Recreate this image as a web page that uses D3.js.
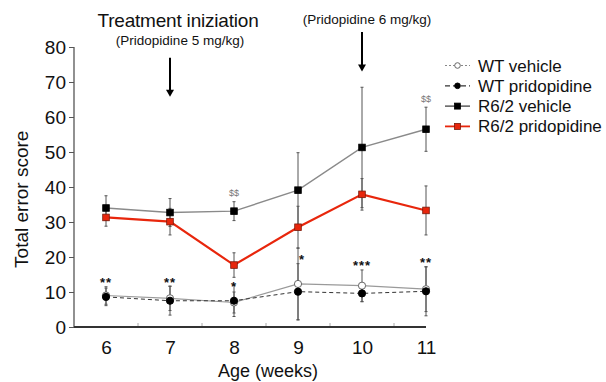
<!DOCTYPE html>
<html>
<head>
<meta charset="utf-8">
<script src="https://cdn.jsdelivr.net/npm/d3@7"></script>
<style>
  body { margin: 0; background: #fff; }
  svg text { font-family: "Liberation Sans", Arial, sans-serif; }
</style>
</head>
<body>
<div id="viz"></div>
<script>
// data
var weeks = [6, 7, 8, 9, 10, 11]
var wtVehicle = [9.0, 8.2, 7.0, 12.3, 11.8, 10.8]
var wtVehicleErr = [2.5, 3.5, 3.0, 10.3, 4.5, 6.4]
var wtPrido = [8.6, 7.5, 7.5, 10.1, 9.6, 10.2]
var wtPridoErr = [2.5, 4.1, 4.5, 8.0, 2.4, 7.0]
var r62Vehicle = [34.0, 32.7, 33.1, 39.1, 51.3, 56.5]
var r62VehicleErr = [3.5, 4.0, 2.7, 10.7, 17.2, 6.3]
var r62Prido = [31.3, 30.1, 17.7, 28.5, 37.9, 33.3]
var r62PridoErr = [2.5, 3.8, 3.5, 6.0, 4.5, 7.0]
var yTicks = [0, 10, 20, 30, 40, 50, 60, 70, 80]
var stars = ["**", "**", "*", "*", "***", "**"]
var starY = [13.2, 13.2, 12.0, 19.8, 17.9, 18.9]
var dollarWeeks = [8, 11]
var dollarY = [38.3, 65.1]

var width = 606, height = 382

var svg = d3.select("#viz").append("svg")
  .attr("width", width)
  .attr("height", height)

var x = d3.scaleLinear().domain([5.5, 11]).range([74, 426])
var y = d3.scaleLinear().domain([0, 80]).range([327, 47])

// axes ----
var yAxis = d3.axisLeft(y).tickValues(yTicks).tickSize(5).tickPadding(3)
var gy = svg.append("g").attr("transform", "translate(74,0)").call(yAxis)
gy.select(".domain").attr("stroke", "#555").attr("stroke-width", 1.3)
  .attr("d", "M0," + y(80) + "V" + y(0))
gy.selectAll(".tick line").attr("stroke", "#555")
gy.selectAll(".tick text").style("font-size", "19px").attr("fill", "#111")

var xAxis = d3.axisBottom(x).tickValues(weeks).tickFormat(d3.format("d")).tickSize(0).tickPadding(14)
var gx = svg.append("g").attr("transform", "translate(0," + y(0) + ")").call(xAxis)
gx.select(".domain").attr("stroke", "#333").attr("stroke-width", 2.2)
  .attr("d", "M" + x(5.5) + ",0H" + x(11))
gx.selectAll(".tick text").style("font-size", "19px").attr("fill", "#111")

// minor ticks at half weeks
svg.append("g").selectAll("line")
  .data([6.5, 7.5, 8.5, 9.5, 10.5])
  .enter().append("line")
    .attr("x1", d => x(d)).attr("x2", d => x(d))
    .attr("y1", y(0) - 1).attr("y2", y(0) - 4)
    .attr("stroke", "#aaa").attr("stroke-width", 1)

svg.append("text")
  .attr("transform", "translate(28," + y(36.5) + ") rotate(-90)")
  .attr("text-anchor", "middle")
  .style("font-size", "19px")
  .attr("fill", "#111")
  .text("Total error score")

svg.append("text")
  .attr("x", 268).attr("y", 377)
  .attr("text-anchor", "middle")
  .style("font-size", "18px")
  .attr("fill", "#111")
  .text("Age (weeks)")

// series ----
var series = [
  {vals: wtVehicle, err: wtVehicleErr, line: "#9a9a9a", lw: 1.2, dash: null, marker: "circle", fill: "#fff", mstroke: "#666"},
  {vals: wtPrido, err: wtPridoErr, line: "#333", lw: 1, dash: "4,3", marker: "circle", fill: "#000", mstroke: "#000"},
  {vals: r62Vehicle, err: r62VehicleErr, line: "#8a8a8a", lw: 1.4, dash: null, marker: "square", fill: "#000", mstroke: "#000"},
  {vals: r62Prido, err: r62PridoErr, line: "#e8260c", lw: 2.2, dash: null, marker: "square", fill: "#e8260c", mstroke: "#7a1a0a"}
]

// error bars first
series.forEach(function(s) {
  var g = svg.append("g")
  weeks.forEach(function(w, i) {
    var top = y(s.vals[i] + s.err[i]), bot = y(Math.max(0, s.vals[i] - s.err[i]))
    g.append("line").attr("x1", x(w)).attr("x2", x(w)).attr("y1", top).attr("y2", bot)
      .attr("stroke", "#555").attr("stroke-width", 1)
    g.append("line").attr("x1", x(w) - 1.5).attr("x2", x(w) + 1.5).attr("y1", top).attr("y2", top)
      .attr("stroke", "#555").attr("stroke-width", 1)
    g.append("line").attr("x1", x(w) - 1.5).attr("x2", x(w) + 1.5).attr("y1", bot).attr("y2", bot)
      .attr("stroke", "#555").attr("stroke-width", 1)
  })
})

var line = d3.line()
  .x(function(d, i) { return x(weeks[i]) })
  .y(function(d) { return y(d) })

series.forEach(function(s) {
  svg.append("path")
    .datum(s.vals)
    .attr("d", line)
    .attr("fill", "none")
    .attr("stroke", s.line)
    .attr("stroke-width", s.lw)
    .attr("stroke-dasharray", s.dash)
})

function drawMarker(g, s, cx, cy) {
  if (s.marker == "circle") {
    g.append("circle").attr("cx", cx).attr("cy", cy).attr("r", 3.6)
      .attr("fill", s.fill).attr("stroke", s.mstroke).attr("stroke-width", 1)
  } else {
    g.append("rect").attr("x", cx - 3.3).attr("y", cy - 3.3).attr("width", 6.6).attr("height", 6.6)
      .attr("fill", s.fill).attr("stroke", s.mstroke).attr("stroke-width", 0.8)
  }
}

series.forEach(function(s) {
  var g = svg.append("g")
  s.vals.forEach(function(v, i) { drawMarker(g, s, x(weeks[i]), y(v)) })
})

// significance marks
svg.append("g").selectAll("text")
  .data(stars)
  .enter().append("text")
    .attr("x", (d, i) => x(weeks[i]) + (weeks[i] == 9 ? 4 : 0))
    .attr("y", (d, i) => y(starY[i]) + 6)
    .attr("text-anchor", "middle")
    .style("font-size", "13px")
    .style("font-weight", "bold")
    .style("letter-spacing", "1px")
    .attr("fill", "#111")
    .text(d => d)

svg.append("g").selectAll("text")
  .data(dollarWeeks)
  .enter().append("text")
    .attr("x", d => x(d))
    .attr("y", (d, i) => y(dollarY[i]) + 3)
    .attr("text-anchor", "middle")
    .style("font-size", "9px")
    .attr("fill", "#777")
    .text("$$")

// treatment annotations
svg.append("text").attr("x", 178).attr("y", 27).attr("text-anchor", "middle")
  .style("font-size", "19px").style("letter-spacing", "-0.2px").attr("fill", "#111")
  .text("Treatment iniziation")
svg.append("text").attr("x", 180).attr("y", 45).attr("text-anchor", "middle")
  .style("font-size", "13.5px").attr("fill", "#111")
  .text("(Pridopidine 5 mg/kg)")
svg.append("text").attr("x", 367).attr("y", 24).attr("text-anchor", "middle")
  .style("font-size", "13.5px").attr("fill", "#111")
  .text("(Pridopidine 6 mg/kg)")

var arrows = [{w: 7, from: 76.9, to: 65.8}, {w: 10, from: 84.3, to: 73.0}]
arrows.forEach(function(a) {
  var ax = x(a.w)
  svg.append("line").attr("x1", ax).attr("x2", ax).attr("y1", y(a.from)).attr("y2", y(a.to) - 6)
    .attr("stroke", "#000").attr("stroke-width", 2)
  svg.append("path")
    .attr("d", "M" + (ax - 4) + "," + (y(a.to) - 7) + "L" + (ax + 4) + "," + (y(a.to) - 7) + "L" + ax + "," + y(a.to) + "Z")
    .attr("fill", "#000")
})

// legend ----
var legendNames = ["WT vehicle", "WT pridopidine", "R6/2 vehicle", "R6/2 pridopidine"]
var legendDash = ["2,2", "5,3", null, null]
var legend = svg.append("g")
legendNames.forEach(function(name, i) {
  var s = series[i]
  var ly = 65.5 + i * 20.3
  legend.append("line").attr("x1", 445).attr("x2", 470).attr("y1", ly).attr("y2", ly)
    .attr("stroke", i == 3 ? s.line : (i == 0 ? "#888" : "#333"))
    .attr("stroke-width", i == 3 ? 1.8 : 1.2)
    .attr("stroke-dasharray", legendDash[i])
  if (s.marker == "circle") {
    legend.append("circle").attr("cx", 457.5).attr("cy", ly).attr("r", 2.8)
      .attr("fill", s.fill).attr("stroke", s.mstroke)
  } else {
    legend.append("rect").attr("x", 454.5).attr("y", ly - 3).attr("width", 6).attr("height", 6)
      .attr("fill", s.fill).attr("stroke", s.mstroke).attr("stroke-width", 0.8)
  }
  legend.append("text").attr("x", 478).attr("y", ly + 6)
    .style("font-size", "17px").attr("fill", "#111")
    .text(name)
})
</script>
</body>
</html>
